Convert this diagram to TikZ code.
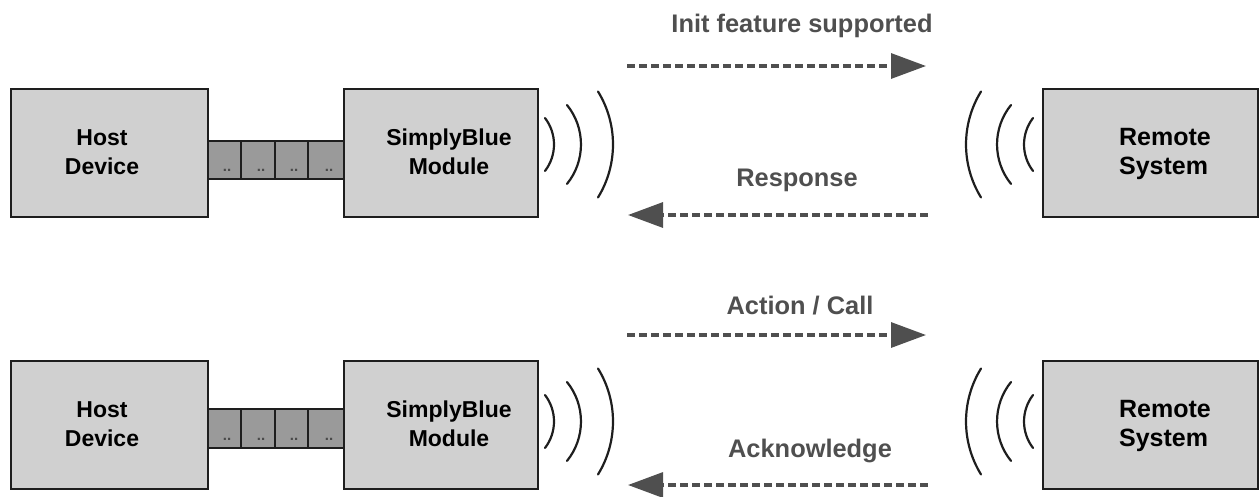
\documentclass[tikz,border=0pt]{standalone}
\usepackage{fontspec}
\setmainfont{Liberation Sans}
\usetikzlibrary{arrows.meta}
\definecolor{boxfill}{HTML}{D0D0D0}
\definecolor{cellfill}{HTML}{9A9A9A}
\definecolor{edgecol}{HTML}{1E1E1E}
\definecolor{msgcol}{HTML}{4F4F4F}
\definecolor{dotcol}{HTML}{4A4A4A}
\begin{document}
\begin{tikzpicture}[x=1pt,y=-1pt,
  unitbox/.style={draw=edgecol, fill=boxfill, line width=2.5pt, inner sep=0pt, minimum height=128pt},
  cellbox/.style={draw=edgecol, fill=cellfill, line width=2.5pt, inner sep=0pt},
  boxtext/.style={font=\bfseries\fontsize{23}{28.5}\selectfont, text=black, align=center, inner sep=0pt, anchor=base},
  remtext/.style={font=\bfseries\fontsize{25}{28.5}\selectfont, text=black, align=left, inner sep=0pt, anchor=base},
  msglabel/.style={font=\bfseries\fontsize{25.4}{30}\selectfont, text=msgcol, inner sep=0pt, anchor=base},
  msgarrow/.style={draw=msgcol, line width=3.2pt, dash pattern=on 8pt off 4pt, -{Triangle[length=35pt,width=25pt]}},
  dots/.style={font=\bfseries\fontsize{15}{15}\selectfont, text=dotcol, inner sep=0pt, anchor=base},
  wave/.style={draw=edgecol, line width=2.2pt, line cap=round}
]
\useasboundingbox (0,0) rectangle (1260,496);

% top row: box top 89 ; bottom row: box top 361
\foreach \r/\t/\ct/\cb/\am in {A/89/141/179/144.5, B/361/409/448/421.5}{
  % connector cells
  \node[cellbox, minimum width=33pt, minimum height={\cb-\ct}] (c1\r) at (224.5,{(\ct+\cb)/2}) {};
  \node[cellbox, minimum width=34pt, minimum height={\cb-\ct}] (c2\r) at (258,{(\ct+\cb)/2}) {};
  \node[cellbox, minimum width=33pt, minimum height={\cb-\ct}] (c3\r) at (291.5,{(\ct+\cb)/2}) {};
  \node[cellbox, minimum width=36pt, minimum height={\cb-\ct}] (c4\r) at (326,{(\ct+\cb)/2}) {};
  \node[dots] (d1\r) at (227,{\cb-8}) {..};
  \node[dots] (d2\r) at (261,{\cb-8}) {..};
  \node[dots] (d3\r) at (294,{\cb-8}) {..};
  \node[dots] (d4\r) at (329,{\cb-8}) {..};
  % boxes
  \node[unitbox, minimum width=197pt] (host\r) at (109.5,{\t+64}) {};
  \node[unitbox, minimum width=194pt] (sb\r) at (441,{\t+64}) {};
  \node[unitbox, minimum width=215pt] (rem\r) at (1150.5,{\t+64}) {};
  \node[boxtext] (hostT\r) at (102,{\t+85}) {Host\\Device};
  \node[boxtext] (sbT\r) at (449,{\t+85}) {SimplyBlue\\Module};
  \node[remtext] (remT\r) at (1165,{\t+85}) {Remote\\System};
  % waves (module side)
  \draw[wave] (545,{\am-26.5}) arc[start angle=-37.5, end angle=37.5, radius=43.5];
  \draw[wave] (567,{\am-39.5}) arc[start angle=-39, end angle=39, radius=62.7];
  \draw[wave] (598,{\am-53}) arc[start angle=-31.6, end angle=31.6, radius=101.1];
  % waves (remote side)
  \draw[wave] (981,{\am-53}) arc[start angle=211.6, end angle=148.4, radius=101.1];
  \draw[wave] (1011,{\am-39.5}) arc[start angle=219, end angle=141, radius=62.7];
  \draw[wave] (1033,{\am-26.5}) arc[start angle=217.5, end angle=142.5, radius=43.5];
}

% ---------- messages ----------
\coordinate (m1s) at (627,66);  \coordinate (m1e) at (926,66);
\coordinate (m2s) at (928,215); \coordinate (m2e) at (628,215);
\coordinate (m3s) at (627,335); \coordinate (m3e) at (926,335);
\coordinate (m4s) at (928,485); \coordinate (m4e) at (628,485);
\draw[msgarrow] (m1s) -- (m1e);
\draw[msgarrow] (m2s) -- (m2e);
\draw[msgarrow] (m3s) -- (m3e);
\draw[msgarrow] (m4s) -- (m4e);
\node[msglabel] (l1) at (802,32) {Init feature supported};
\node[msglabel] (l2) at (797,186) {Response};
\node[msglabel] (l3) at (800,314) {Action / Call};
\node[msglabel] (l4) at (810,457) {Acknowledge};
\end{tikzpicture}
\end{document}
